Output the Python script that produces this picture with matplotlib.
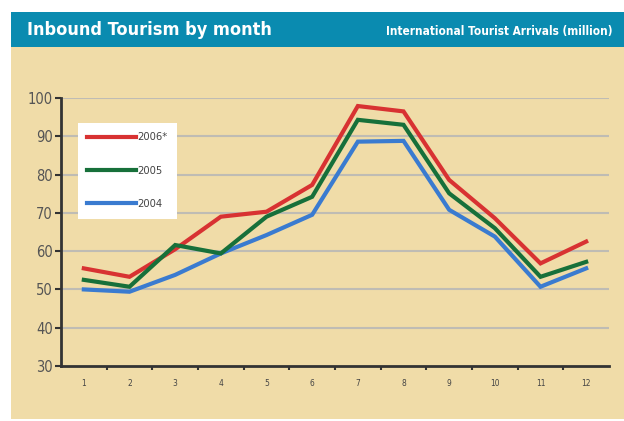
import matplotlib
matplotlib.use('Agg')
import matplotlib.pyplot as plt
from matplotlib.patches import Rectangle

months = [1, 2, 3, 4, 5, 6, 7, 8, 9, 10, 11, 12]
month_labels = [str(m) for m in months]
arrivals_2006 = [55.5, 53.3, 60.5, 69.0, 70.3, 77.3, 97.9, 96.5, 78.6, 68.6, 56.8, 62.5]
arrivals_2005 = [52.5, 50.7, 61.6, 59.4, 69.0, 74.2, 94.3, 93.0, 75.1, 66.0, 53.3, 57.2]
arrivals_2004 = [50.0, 49.4, 53.8, 59.4, 64.2, 69.5, 88.6, 88.8, 70.8, 63.8, 50.7, 55.5]
y_ticks = [30, 40, 50, 60, 70, 80, 90, 100]

W, H = 624, 421
fig = plt.figure(figsize=[W / 100, H / 100], dpi=100)
fig.patch.set_facecolor('white')

# tan panel and blue header band
fig.patches.append(Rectangle((11 / W, 1 - 419 / H), 1 - 11 / W, (419 - 47) / H,
                             transform=fig.transFigure, facecolor='#f0dca8', edgecolor='none', zorder=-2))
fig.patches.append(Rectangle((11 / W, 1 - 47 / H), 1 - 11 / W, 35 / H,
                             transform=fig.transFigure, facecolor='#0a8bb0', edgecolor='none', zorder=-2))

fig.text(27 / W, 1 - 30 / H, 'Inbound Tourism by month', color='white', fontsize=13,
         fontweight='bold', stretch='condensed', va='center', ha='left')
fig.text(613 / W, 1 - 31 / H, 'International Tourist Arrivals (million)', color='white', fontsize=8.5,
         fontweight='bold', stretch='condensed', va='center', ha='right')

ax = fig.add_axes([61 / W, 1 - 366 / H, (609 - 61) / W, (366 - 98) / H])
ax.set_facecolor('none')

l04, = ax.plot(months, arrivals_2004, color='#3a7bd0', lw=3, solid_joinstyle='miter', label='2004', zorder=3)
l06, = ax.plot(months, arrivals_2006, color='#d83232', lw=3, solid_joinstyle='miter', label='2006*', zorder=3)
l05, = ax.plot(months, arrivals_2005, color='#17703a', lw=3, solid_joinstyle='miter', label='2005', zorder=3)

ax.set_xlim(0.5, 12.5)
ax.set_ylim(30, 100)
ax.set_yticks(y_ticks)
ax.set_xticks(months)
ax.set_xticklabels(month_labels, fontsize=6, color='#444444', stretch='condensed')
ax.set_xticks([m + 0.5 for m in months[:-1]], minor=True)
ax.tick_params(axis='x', which='major', length=0, pad=9)
ax.tick_params(axis='x', which='minor', length=3, width=1.5, color='#333333', direction='out')
ax.tick_params(axis='y', length=4, width=1.5, color='#333333', labelsize=10.5, labelcolor='#555555', pad=2)
for lab in ax.get_yticklabels():
    lab.set_stretch('condensed')

for v in y_ticks[1:]:
    ax.axhline(v, color='#bfbcb4', lw=1.5, zorder=1)

for s in ['top', 'right']:
    ax.spines[s].set_visible(False)
for s in ['left', 'bottom']:
    ax.spines[s].set_color('#333333')
    ax.spines[s].set_linewidth(2)

leg = ax.legend([l06, l05, l04], ['2006*', '2005', '2004'], loc='upper left',
                bbox_to_anchor=(78 / W, 1 - 123 / H), bbox_transform=fig.transFigure,
                handlelength=4.4, handletextpad=0.1, labelspacing=2.1,
                borderpad=0.85, borderaxespad=0, frameon=True, fancybox=False,
                prop={'size': 8, 'stretch': 'condensed'})
leg.get_frame().set_facecolor('white')
leg.get_frame().set_edgecolor('none')
leg.get_frame().set_alpha(1)
for t in leg.get_texts():
    t.set_color('#444444')

plt.savefig('out.png', dpi=100)
